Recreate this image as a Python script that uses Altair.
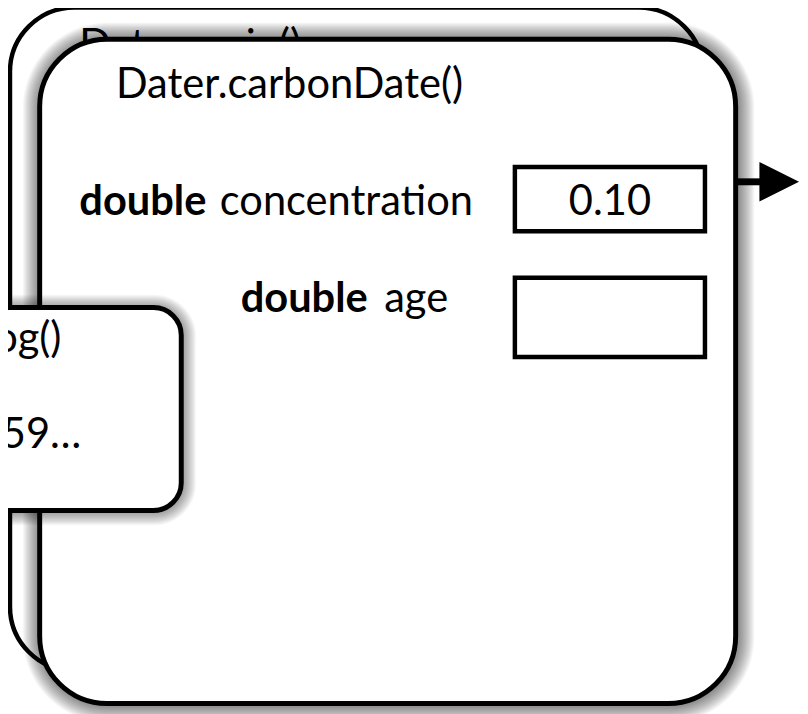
import altair as alt
import pandas as pd

# ---- diagram content -------------------------------------------------
# stack frames: back (caller), front (callee), small popup frame
frame_names = ["Dater.main()", "Dater.carbonDate()", "Math.log()"]
frame_left = [10, 40, -60]
frame_right = [710, 743, 183]
frame_top = [4, 36, 307]
frame_bottom = [674, 707, 512]
frame_radius = [65, 68, 28]
frame_stroke = [4.5, 5, 5]
frame_shadow = [0, 18, 14]

# frame titles (alphabetic baseline)
title_text = ["Dater.main()", "Dater.carbonDate()", "Math.log()"]
title_x = [80, 117, 62]
title_y = [56, 95, 352]
title_align = ["left", "left", "right"]

# local variables of Dater.carbonDate()
var_type = ["double", "double"]
var_name = ["concentration", "age"]
var_value = ["0.10", ""]
var_type_x = [80, 243]
var_name_x = [222, 388]
var_y = [214, 312]
box_left = [520, 520]
box_right = [712, 712]
box_top = [165, 277]
box_bottom = [230, 357]

# returned value shown in the popup frame
result_text = ["-2.3025850929940459\u2026"]
result_x = [82]
result_y = [449]

# arrow leaving the frame
arrow_x0 = [745]
arrow_x1 = [775]
arrow_y = [180]
arrow_head_x = [787]

FONT = "Lato"
FS = 42

X = alt.Scale(domain=[8, 808], nice=False, zero=False)
Y = alt.Scale(domain=[8, 714], nice=False, zero=False, reverse=True)


def xq(f):
    return alt.X(f, type="quantitative", scale=X, axis=None)


def yq(f):
    return alt.Y(f, type="quantitative", scale=Y, axis=None)


def frame_layers(i):
    df = pd.DataFrame({
        "x0": [frame_left[i]], "x1": [frame_right[i]],
        "y0": [frame_top[i]], "y1": [frame_bottom[i]],
    })
    base = alt.Chart(df)
    layers = []
    n = frame_shadow[i]
    for k in range(n, 0, -1):
        layers.append(
            base.mark_rect(
                cornerRadius=frame_radius[i] + k,
                xOffset=-k + 1, x2Offset=k + 1,
                yOffset=-k + 1, y2Offset=k + 1,
                color="black", opacity=0.032,
            ).encode(x=xq("x0"), x2="x1", y=yq("y0"), y2="y1")
        )
    layers.append(
        base.mark_rect(
            cornerRadius=frame_radius[i], fill="white", stroke="black",
            strokeWidth=frame_stroke[i],
        ).encode(x=xq("x0"), x2="x1", y=yq("y0"), y2="y1")
    )
    tdf = pd.DataFrame({"t": [title_text[i]], "x": [title_x[i]], "y": [title_y[i]]})
    layers.append(
        alt.Chart(tdf).mark_text(
            font=FONT, fontSize=FS, align=title_align[i], baseline="alphabetic",
            color="black",
        ).encode(x=xq("x"), y=yq("y"), text="t:N")
    )
    return layers


layers = []
layers += frame_layers(0)
layers += frame_layers(1)

vars_df = pd.DataFrame({
    "type": var_type, "name": var_name, "value": var_value,
    "tx": var_type_x, "nx": var_name_x, "y": var_y,
    "bx0": box_left, "bx1": box_right, "by0": box_top, "by1": box_bottom,
})
vars_df["bxc"] = (vars_df["bx0"] + vars_df["bx1"]) / 2
vb = alt.Chart(vars_df)
layers.append(
    vb.mark_text(font=FONT, fontSize=FS, fontWeight="bold", align="left",
                 baseline="alphabetic", color="black")
    .encode(x=xq("tx"), y=yq("y"), text="type:N")
)
layers.append(
    vb.mark_text(font=FONT, fontSize=FS, align="left", baseline="alphabetic", color="black")
    .encode(x=xq("nx"), y=yq("y"), text="name:N")
)
layers.append(
    vb.mark_rect(fill="white", stroke="black", strokeWidth=4.5)
    .encode(x=xq("bx0"), x2="bx1", y=yq("by0"), y2="by1")
)
layers.append(
    vb.mark_text(font=FONT, fontSize=FS, align="center", baseline="alphabetic",
                 color="black")
    .encode(x=xq("bxc"), y=yq("y"), text="value:N")
)

layers += frame_layers(2)
res_df = pd.DataFrame({"t": result_text, "x": result_x, "y": result_y})
layers.append(
    alt.Chart(res_df).mark_text(font=FONT, fontSize=FS, align="right",
                                baseline="alphabetic", color="black")
    .encode(x=xq("x"), y=yq("y"), text="t:N")
)

arr_df = pd.DataFrame({"x0": arrow_x0, "x1": arrow_x1, "y": arrow_y, "hx": arrow_head_x})
layers.append(
    alt.Chart(arr_df).mark_rule(color="black", strokeWidth=7)
    .encode(x=xq("x0"), x2="x1", y=yq("y"))
)
layers.append(
    alt.Chart(arr_df).mark_point(shape="M-1,-1L1,0L-1,1Z", filled=True, size=1600,
                                 color="black", opacity=1)
    .encode(x=xq("hx"), y=yq("y"))
)

chart = alt.layer(*layers).properties(
    width=800, height=706, padding=0, autosize=alt.AutoSizeParams(type="none"),
    background="white",
).configure_view(stroke=None)

chart.save("out.html", embed_options={"renderer": "svg", "actions": False})
